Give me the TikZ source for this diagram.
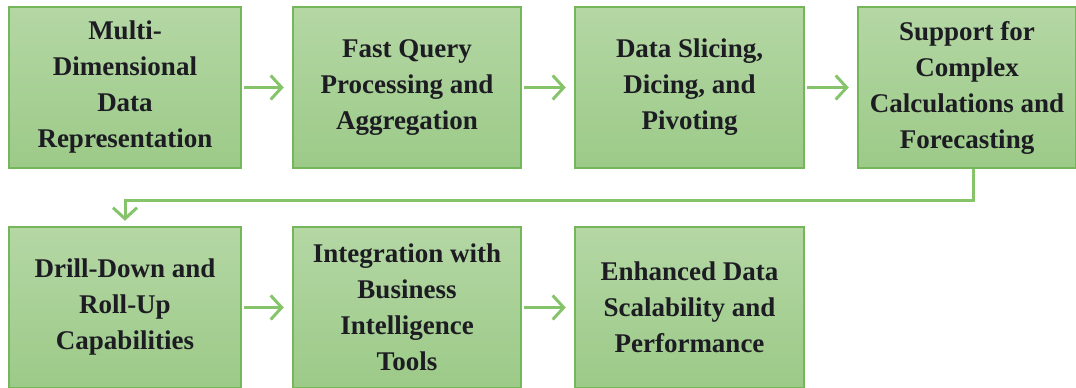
\documentclass[tikz,border=0pt]{standalone}
\usepackage{fontspec}
\setmainfont{Liberation Serif}
\usetikzlibrary{arrows.meta}
\definecolor{boxtop}{HTML}{B4D7A4}
\definecolor{boxbot}{HTML}{9CCA88}
\definecolor{boxline}{HTML}{76B65A}
\definecolor{arrowc}{HTML}{86C46C}
\definecolor{txt}{HTML}{1C1C22}
\tikzset{
  stepbox/.style={draw=boxline, line width=2.5pt, top color=boxtop, bottom color=boxbot,
    minimum height=161pt, inner sep=0pt, align=center, text=txt,
    font=\bfseries\fontsize{27}{36}\selectfont},
  flow/.style={draw=arrowc, line width=3pt, -{Straight Barb[length=11pt,width=24pt,line width=3pt]}},
}
\begin{document}
\begin{tikzpicture}[x=1pt,y=-1pt]
\useasboundingbox (0,0) rectangle (1076,388);
\node[stepbox, minimum width=232pt] (b1) at (125,87.5) {Multi-\\Dimensional\\Data\\Representation};
\node[stepbox, minimum width=228pt] (b2) at (407,87.5) {Fast Query\\Processing and\\Aggregation};
\node[stepbox, minimum width=229pt] (b3) at (689.5,87.5) {Data Slicing,\\Dicing, and\\Pivoting};
\node[stepbox, minimum width=218pt] (b4) at (967,87.5) {Support for\\Complex\\Calculations and\\Forecasting};
\node[stepbox, minimum width=232pt] (b5) at (125,307.5) {Drill-Down and\\Roll-Up\\Capabilities};
\node[stepbox, minimum width=228pt] (b6) at (407,307.5) {Integration with\\Business\\Intelligence\\Tools};
\node[stepbox, minimum width=229pt] (b7) at (689.5,307.5) {Enhanced Data\\Scalability and\\Performance};
\draw[flow, shorten <=2pt, shorten >=8pt] (b1.east) -- (b2.west);
\draw[flow, shorten <=2pt, shorten >=8pt] (b2.east) -- (b3.west);
\draw[flow, shorten <=2pt, shorten >=8pt] (b3.east) -- (b4.west);
\draw[flow, shorten <=2pt, shorten >=8pt] (b5.east) -- (b6.west);
\draw[flow, shorten <=2pt, shorten >=8pt] (b6.east) -- (b7.west);
\draw[flow, shorten >=5pt] ([xshift=6pt]b4.south) -- ++(0,31) -| (b5.north);
\end{tikzpicture}
\end{document}
